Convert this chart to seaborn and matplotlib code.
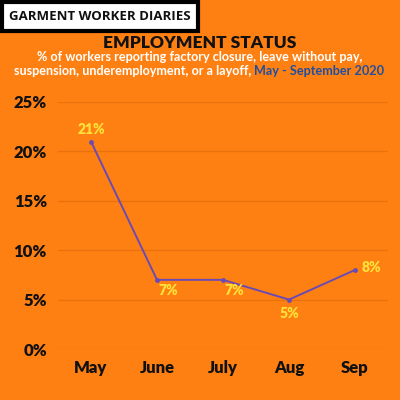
import matplotlib
matplotlib.use("Agg")
import matplotlib.pyplot as plt
from matplotlib.patches import Rectangle
from matplotlib.ticker import PercentFormatter
import seaborn as sns
import pandas as pd

months = ["May", "June", "July", "Aug", "Sep"]
share = [0.21, 0.07, 0.07, 0.05, 0.08]
yticks = [0, 0.05, 0.10, 0.15, 0.20, 0.25]

ORANGE = "#FF8012"
LINE = "#6A4BB3"
LABEL = "#FFE23A"
GRID = "#EA720E"
BLUE = "#1F4FA0"

sns.set_theme(style="white")
plt.rcParams["font.family"] = ["Lato", "DejaVu Sans"]

df = pd.DataFrame({"month": months, "share": share})

fig = plt.figure(figsize=(4, 4), dpi=100, facecolor=ORANGE)
ax = fig.add_axes([0.145, 0.1275, 0.825, 0.6175])
ax.set_facecolor(ORANGE)

sns.lineplot(data=df, x="month", y="share", ax=ax, color=LINE, lw=1.4,
             marker="o", markersize=3.5, markeredgewidth=0, sort=False)

ax.set_xlim(-0.5, 4.5)
ax.set_ylim(0, 0.25)
ax.set_yticks(yticks)
ax.yaxis.set_major_formatter(PercentFormatter(1.0, decimals=0))
ax.grid(axis="y", color=GRID, lw=1)
ax.set_axisbelow(True)
for s in ax.spines.values():
    s.set_visible(False)
ax.tick_params(length=0, labelsize=12, labelcolor="#111111", pad=8)
for t in ax.get_xticklabels() + ax.get_yticklabels():
    t.set_fontweight("heavy")
ax.set_xlabel("")
ax.set_ylabel("")

# data labels
offsets = [(0, 4, "center", "bottom"), (8, -3, "center", "top"),
           (8, -3, "center", "top"), (0, -5, "center", "top"),
           (12, 2, "center", "center")]
for i, (v, (dx, dy, ha, va)) in enumerate(zip(share, offsets)):
    ax.annotate(f"{round(v * 100)}%", (i, v), xytext=(dx, dy),
                textcoords="offset points", ha=ha, va=va, color=LABEL,
                fontsize=10, fontweight="heavy", clip_on=False)

# header box
fig.patches.append(Rectangle((0.004, 0.922), 0.49, 0.072, transform=fig.transFigure,
                             facecolor="white", edgecolor="black", lw=3))
fig.text(0.25, 0.958, "GARMENT WORKER DIARIES", fontsize=9.5, fontweight="bold",
         color="#111111", ha="center", va="center", family=["Open Sans", "DejaVu Sans"])

fig.text(0.5, 0.893, "EMPLOYMENT STATUS", fontsize=12.5, fontweight="heavy",
         color="#111111", ha="center", va="center")
fig.text(0.5, 0.858, "% of workers reporting factory closure, leave without pay,",
         fontsize=9.1, fontweight="bold", color="white", ha="center", va="center")
fig.text(0.636, 0.822, "suspension, underemployment, or a layoff, ",
         fontsize=9.1, fontweight="bold", color="white", ha="right", va="center")
fig.text(0.636, 0.822, "May - September 2020",
         fontsize=9.1, fontweight="bold", color=BLUE, ha="left", va="center")

fig.savefig("out.png", dpi=100, facecolor=ORANGE)
